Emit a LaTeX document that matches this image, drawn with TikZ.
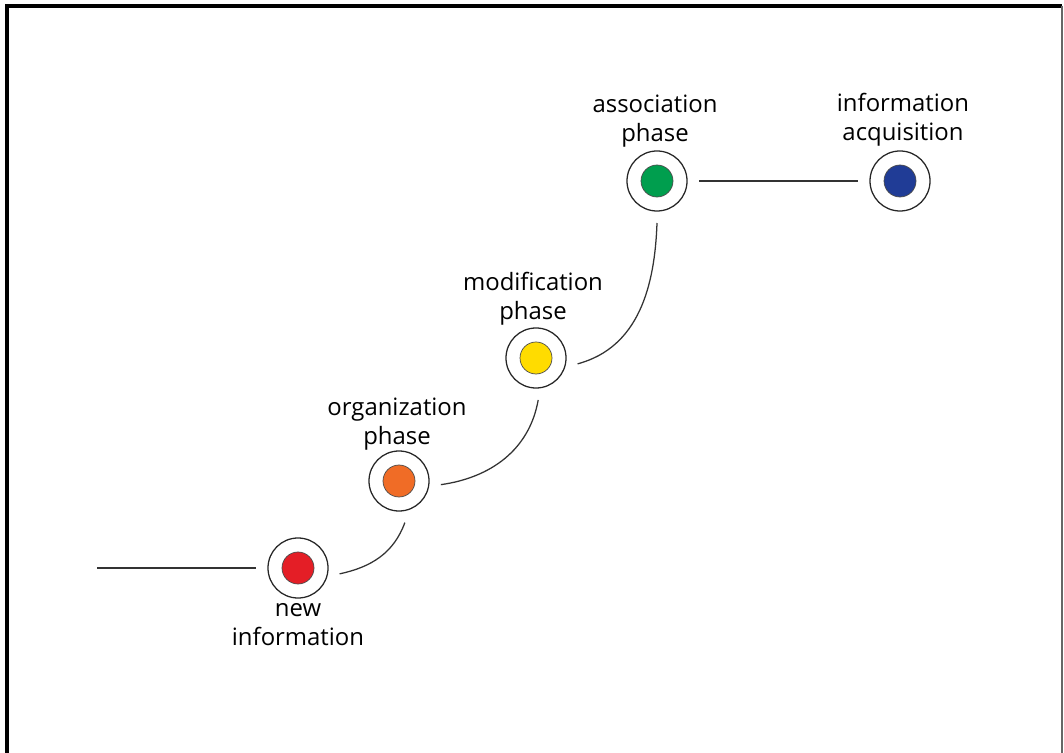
\documentclass[tikz,border=0pt]{standalone}
\usepackage{fontspec}
\setmainfont{Open Sans}

\definecolor{newred}{RGB}{228,30,38}
\definecolor{orgorange}{RGB}{240,108,38}
\definecolor{modyellow}{RGB}{255,220,0}
\definecolor{assgreen}{RGB}{0,158,78}
\definecolor{acqblue}{RGB}{32,60,150}

\tikzset{
  phase/.style={circle, draw=black!85, line width=0.9pt, minimum size=1.5cm,
    inner sep=0pt, outer sep=0.3cm,
    path picture={\draw[fill=#1, draw=black!70, line width=0.5pt]
      (path picture bounding box.center) circle (0.4cm);}},
  lbl/.style={align=center, inner sep=0pt, font=\fontsize{17}{20.5}\selectfont},
  link/.style={black!80, line width=0.9pt}
}

\begin{document}
\begin{tikzpicture}[x=0.025cm, y=-0.025cm]
    \useasboundingbox (0,0) rectangle (1064,753);
    % frame
    \draw[line width=2.2pt] (7,753) -- (7,6) -- (1062,6);
    \draw[black!60, line width=1pt] (1062,6) -- (1062,753);

    % phases
    \node[phase=newred] (new) at (298,568) {};
    \node[phase=orgorange] (org) at (399,481) {};
    \node[phase=modyellow] (mod) at (536,358) {};
    \node[phase=assgreen] (ass) at (657,181) {};
    \node[phase=acqblue] (acq) at (900,181) {};

    % labels
    \node[lbl] (newlbl) at (298,625) {new\\information};
    \node[lbl] (orglbl) at (397,424) {organization\\phase};
    \node[lbl] (modlbl) at (533,299) {modification\\phase};
    \node[lbl] (asslbl) at (655,121) {association\\phase};
    \node[lbl] (acqlbl) at (903,120) {information\\acquisition};

    % links
    \coordinate (start) at (97,568);
    \draw[link] (start) -- (new.180);
    \draw[link] (new.-8) to [out=12,in=-110] (org.-82);
    \draw[link] (org.-5) to [out=8,in=-100] (mod.-87);
    \draw[link] (mod.-8) to [out=15,in=-92] (ass.-90);
    \draw[link] (ass.0) -- (acq.180);
\end{tikzpicture}
\end{document}
